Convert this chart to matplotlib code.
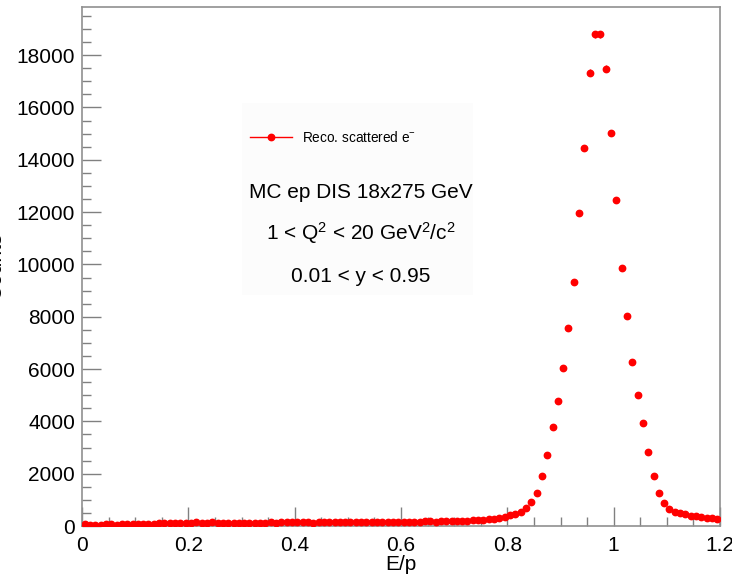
import numpy as np
import matplotlib
matplotlib.use("Agg")
import matplotlib.pyplot as plt
from matplotlib.patches import Rectangle
from matplotlib.lines import Line2D

plt.rcParams['font.family'] = ['Liberation Sans', 'DejaVu Sans']
plt.rcParams['mathtext.fontset'] = 'custom'
plt.rcParams['mathtext.rm'] = 'Liberation Sans'
plt.rcParams['mathtext.it'] = 'Liberation Sans'

# E/p histogram, 120 bins of width 0.01 from 0 to 1.2
bin_width = 0.01
counts = [
    60, 55, 50, 55, 60, 60, 55, 60, 65, 70,
    75, 70, 80, 90, 100, 110, 115, 120, 125, 130,
    130, 135, 125, 130, 135, 130, 125, 130, 130, 125,
    120, 125, 130, 125, 130, 135, 130, 135, 140, 140,
    150, 140, 135, 130, 135, 140, 140, 135, 140, 145,
    140, 145, 150, 145, 140, 145, 150, 150, 145, 150,
    150, 155, 150, 165, 180, 185, 170, 180, 185, 190,
    195, 200, 210, 220, 230, 240, 255, 270, 290, 340,
    411, 473, 550, 704, 923, 1269, 1896, 2719, 3769, 4796,
    6050, 7565, 9335, 11950, 14461, 17335, 18800, 18800, 17473, 15026,
    12461, 9873, 8027, 6281, 5027, 3923, 2846, 1923, 1258, 873,
    654, 550, 488, 450, 385, 380, 346, 320, 300, 250,
]
x_ticks = [0, 0.2, 0.4, 0.6, 0.8, 1, 1.2]
x_tick_labels = ["0", "0.2", "0.4", "0.6", "0.8", "1", "1.2"]
y_ticks = [0, 2000, 4000, 6000, 8000, 10000, 12000, 14000, 16000, 18000]

counts = np.array(counts, dtype=float)
centers = (np.arange(len(counts)) + 0.5) * bin_width

fig = plt.figure(figsize=(7.32, 5.77), dpi=100)
ax = fig.add_axes([82/732, 1 - 526/577, 638/732, (526 - 7.3)/577])

ax.errorbar(centers, counts, xerr=bin_width/2, yerr=np.sqrt(counts),
            fmt='o', color='#ff0000', ms=4.6, elinewidth=1.0, capsize=0, zorder=3)

ax.set_xlim(0, 1.2)
ax.set_ylim(0, 19830)
ax.set_xticks(x_ticks)
ax.set_xticklabels(x_tick_labels)
ax.set_yticks(y_ticks)
ax.set_xticks(np.arange(0, 1.2001, 0.05), minor=True)
ax.set_yticks(np.arange(0, 19800, 500), minor=True)

for s in ax.spines.values():
    s.set_color('#909090')
    s.set_linewidth(1.2)
ax.tick_params(which='both', direction='in', color='#808080', top=False, right=False,
               labelsize=15)
ax.tick_params(which='major', length=14, width=1.0)
ax.tick_params(which='minor', length=6.5, width=1.0)
ax.tick_params(axis='y', pad=5)
ax.tick_params(axis='x', pad=7)

ax.set_xlabel("E/p", fontsize=15, labelpad=0)

# cut-off y axis title
fig.text(5/732, 1 - 266/577, "Counts", rotation=90, ha='right', va='center', fontsize=15)

# faint pave behind the text block
ax.add_patch(Rectangle((242/732, 1 - 295/577), 231/732, 192/577,
                       transform=fig.transFigure, facecolor='#fcfcfc',
                       edgecolor='none', zorder=0.5))

handle = Line2D([], [], color='#ff0000', marker='o', ms=4.6, lw=1.0)
leg = ax.legend([handle], ["Reco. scattered e$^{-}$"], loc='center left',
                bbox_to_anchor=(250/732, 1 - 137/577),
                bbox_transform=fig.transFigure, frameon=False, fontsize=9.8,
                handlelength=3.1, handletextpad=0.75, borderpad=0, borderaxespad=0)
leg.set_zorder(5)

ax.text(361/732, 1 - 198/577, "MC ep DIS 18x275 GeV", transform=fig.transFigure,
        ha='center', va='baseline', fontsize=15)
ax.text(361/732, 1 - 240/577, "1 < Q$^{2}$ < 20 GeV$^{2}$/c$^{2}$", transform=fig.transFigure,
        ha='center', va='baseline', fontsize=15)
ax.text(361/732, 1 - 282/577, "0.01 < y < 0.95", transform=fig.transFigure,
        ha='center', va='baseline', fontsize=15)

fig.savefig("out.png", dpi=100)
